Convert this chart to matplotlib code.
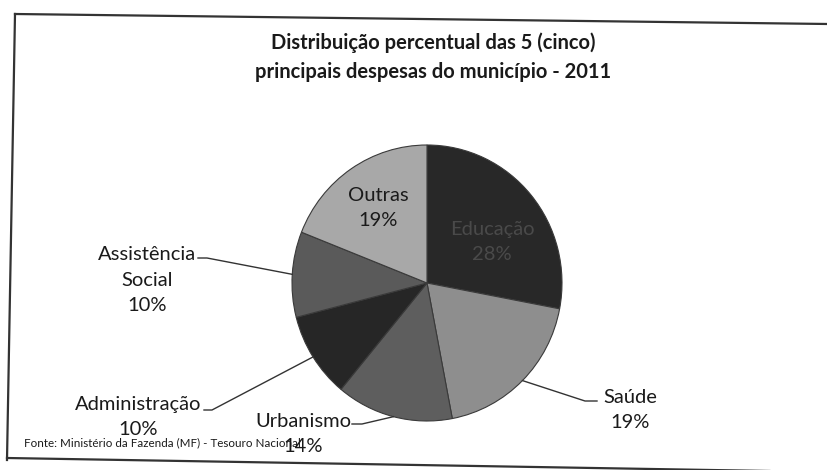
import numpy as np
import matplotlib
matplotlib.use('Agg')
import matplotlib.pyplot as plt

# dados do grafico (percentual das despesas - 2011)
categorias = ['Educação', 'Saúde', 'Urbanismo', 'Administração', 'Assistência\nSocial', 'Outras']
valores = [28, 19, 14, 10, 10, 19]
cores = ['#282828', '#8e8e8e', '#5e5e5e', '#262626', '#5a5a5a', '#a8a8a8']

titulo = 'Distribuição percentual das 5 (cinco)\nprincipais despesas do município - 2011'
fonte = 'Fonte: Ministério da Fazenda (MF) - Tesouro Nacional'

plt.rcParams['font.family'] = ['Lato', 'DejaVu Sans']

W, H = 828, 470
fig = plt.figure(figsize=(W / 100, H / 100), dpi=100)

# pizza
px0, px1, py0, py1 = 292, 562, 145, 421
cx, cy = (px0 + px1) / 2, (py0 + py1) / 2
rx, ry = (px1 - px0) / 2, (py1 - py0) / 2
ax = fig.add_axes([px0 / W, 1 - py1 / H, (px1 - px0) / W, (py1 - py0) / H])
wedges, _ = ax.pie(valores, colors=cores, startangle=90, counterclock=False,
                   wedgeprops=dict(edgecolor='#3a3a3a', linewidth=0.8))
ax.set_aspect('auto')
ax.set_xlim(-1.0, 1.0)
ax.set_ylim(-1.0, 1.0)

# camada por cima em pixels (moldura, textos, linhas guia)
bg = fig.add_axes([0, 0, 1, 1])
bg.set_xlim(0, W)
bg.set_ylim(H, 0)
bg.axis('off')
bg.set_zorder(5)

# moldura levemente torta (digitalizacao)
bg.plot([15, 828], [14, 24], color='#333333', lw=1.6)
bg.plot([15, 7], [14, 460], color='#333333', lw=1.6)
bg.plot([7, 828], [458, 472], color='#333333', lw=1.6)

bg.text(433, 57, titulo, ha='center', va='center', fontsize=14.5,
        fontweight='bold', color='#1a1a1a', linespacing=1.55)

# angulos medios (horario a partir do topo)
acum = np.cumsum([0] + valores)
meio = (acum[:-1] + acum[1:]) / 2 / sum(valores) * 360

def borda(i):
    t = np.deg2rad(meio[i])
    return cx + rx * np.sin(t), cy - ry * np.cos(t)

def rotulo(i):
    return f'{categorias[i]}\n{valores[i]}%'

fs = 14.5
ls = 1.6
# rotulos internos
bg.text(492, 242, rotulo(0), ha='center', va='center', fontsize=fs,
        color='#4a4a4a', linespacing=ls)
bg.text(378, 208, rotulo(5), ha='center', va='center', fontsize=fs,
        color='#1a1a1a', linespacing=ls)

# rotulos externos com linhas guia
bg.text(630, 410, rotulo(1), ha='center', va='center', fontsize=fs,
        color='#1a1a1a', linespacing=ls)
ex, ey = borda(1)
bg.plot([ex, 585, 597], [ey, 401, 401], color='#333333', lw=1)

bg.text(303, 434, rotulo(2), ha='center', va='center', fontsize=fs,
        color='#1a1a1a', linespacing=ls)
ex, ey = borda(2)
bg.plot([352, 362, ex], [424, 424, ey], color='#333333', lw=1)

bg.text(138, 417, rotulo(3), ha='center', va='center', fontsize=fs,
        color='#1a1a1a', linespacing=ls)
ex, ey = borda(3)
bg.plot([204, 212, ex], [410, 410, ey], color='#333333', lw=1)

bg.text(147, 280, rotulo(4), ha='center', va='center', fontsize=fs,
        color='#1a1a1a', linespacing=ls)
ex, ey = borda(4)
bg.plot([198, 207, ex], [258, 258, ey], color='#333333', lw=1)

bg.text(24, 443, fonte, ha='left', va='center', fontsize=8.4, color='#1a1a1a')

fig.savefig('out.png', dpi=100, facecolor='white')
